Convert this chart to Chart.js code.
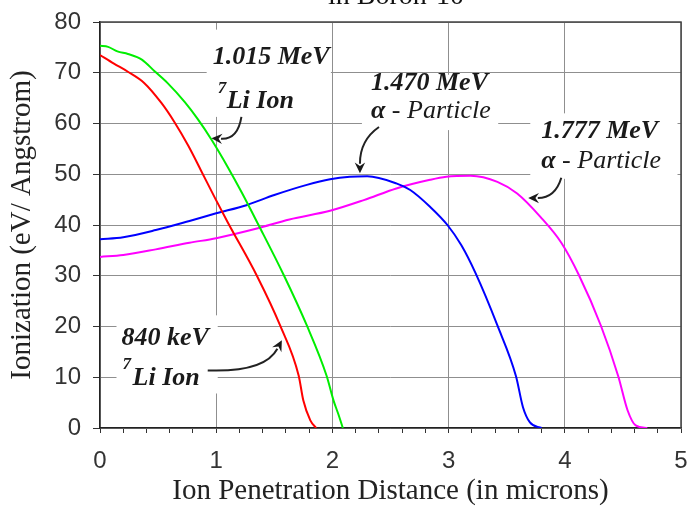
<!DOCTYPE html>
<html>
<head>
<meta charset="utf-8">
<script src="https://cdn.jsdelivr.net/npm/chart.js@4.4.1/dist/chart.umd.min.js"></script>
<style>
  html, body { margin: 0; padding: 0; background: #fff; }
  canvas { display: block; }
</style>
</head>
<body>
<canvas id="canvas" width="689" height="509"></canvas>
<script>
// 840 keV 7Li ion
const li840X = [0, 0.12, 0.24, 0.38, 0.53, 0.64, 0.76, 0.87, 0.99, 1.10, 1.35, 1.55, 1.71, 1.75, 1.81, 1.86];
const li840Y = [73.5, 71.8, 70.2, 68.0, 64.0, 60.3, 55.6, 50.7, 45.3, 40.5, 30.0, 20.2, 10.3, 5.4, 1.5, 0];
// 1.015 MeV 7Li ion
const li1015X = [0, 0.07, 0.15, 0.24, 0.36, 0.47, 0.58, 0.73, 0.84, 0.96, 1.10, 1.22, 1.36, 1.58, 1.78, 1.95, 2.01, 2.05, 2.09];
const li1015Y = [75.3, 75.1, 74.2, 73.7, 72.6, 70.3, 68.0, 64.2, 60.9, 56.8, 51.4, 46.4, 40.2, 30.2, 20.2, 10.3, 5.4, 2.8, 0];
// 1.470 MeV alpha particle
const alpha1470X = [0, 0.2, 0.48, 0.77, 1.0, 1.26, 1.50, 1.78, 1.98, 2.15, 2.3, 2.55, 2.67, 2.84, 2.99, 3.11, 3.23, 3.42, 3.58, 3.64, 3.70, 3.80];
const alpha1470Y = [37.2, 37.6, 39.0, 40.8, 42.3, 43.9, 45.9, 47.9, 49.0, 49.5, 49.6, 48.2, 46.9, 43.6, 40.0, 36.0, 30.6, 20.2, 10.2, 4.1, 1.1, 0];
// 1.777 MeV alpha particle
const alpha1777X = [0, 0.2, 0.48, 0.77, 1.0, 1.35, 1.63, 1.98, 2.27, 2.55, 2.84, 2.98, 3.19, 3.42, 3.59, 3.79, 3.97, 4.12, 4.31, 4.46, 4.54, 4.61, 4.71];
const alpha1777Y = [33.7, 34.1, 35.2, 36.5, 37.4, 39.3, 41.1, 42.8, 44.9, 47.2, 48.9, 49.5, 49.7, 48.5, 46.2, 41.6, 36.5, 30.2, 20.2, 10.2, 3.5, 0.5, 0];

const titleText = "in Boron-10";
const xTitle = "Ion Penetration Distance (in microns)";
const yTitle = "Ionization (eV/ Angstrom)";

const BI = "italic bold 26px 'Liberation Serif'";
const IT = "italic 26px 'Liberation Serif'";
const SUP = "italic bold 17px 'Liberation Serif'";

// callouts, placed in data units
const notes = [
  {
    box: [0.918, 78.5, 1.987, 61.3],
    runs: [
      { x: 0.97, y: 71.75, parts: [["1.015 MeV", BI]] },
      { x: 1.013, y: 66.0, parts: [["7", SUP]] },
      { x: 1.09, y: 63.1, parts: [["Li Ion", BI]] },
    ],
    arrow: [[1.217, 61.3], [1.185, 56.8], [0.959, 57.1]],
  },
  {
    box: [2.254, 69.6, 3.427, 58.7],
    runs: [
      { x: 2.332, y: 66.6, parts: [["1.470 MeV", BI]] },
      { x: 2.332, y: 61.1, parts: [["\u03b1", BI], [" - Particle", IT]] },
    ],
    arrow: [[2.401, 59.3], [2.237, 56.7], [2.237, 50.2]],
  },
  {
    box: [3.703, 62.0, 4.97, 49.1],
    runs: [
      { x: 3.797, y: 57.1, parts: [["1.777 MeV", BI]] },
      { x: 3.797, y: 51.2, parts: [["\u03b1", BI], [" - Particle", IT]] },
    ],
    arrow: [[3.97, 49.3], [3.918, 45.3], [3.685, 45.3]],
  },
  {
    box: [0.142, 22.2, 1.013, 6.8],
    runs: [
      { x: 0.185, y: 16.3, parts: [["840 keV", BI]] },
      { x: 0.194, y: 11.7, parts: [["7", SUP]] },
      { x: 0.28, y: 8.4, parts: [["Li Ion", BI]] },
    ],
    arrow: [[0.927, 11.35], [1.418, 10.96], [1.565, 17.3]],
  },
];

const toPoints = (xs, ys) => xs.map((x, i) => ({ x: x, y: ys[i] }));
const isWhole = (v) => Math.abs(v - Math.round(v)) < 1e-6;

const series = (data, color) => ({
  data: data,
  borderColor: color,
  backgroundColor: color,
  borderWidth: 2,
  pointRadius: 0,
  fill: false,
  cubicInterpolationMode: "monotone",
});

const calloutPlugin = {
  id: "callouts",
  beforeDatasetsDraw(chart) {
    const { ctx, scales: { x, y }, chartArea } = chart;
    ctx.save();
    ctx.fillStyle = "#fff";
    notes.forEach((n) => {
      const [x0, y0, x1, y1] = n.box;
      const l = x.getPixelForValue(x0), r = x.getPixelForValue(x1);
      const t = Math.max(y.getPixelForValue(y0), chartArea.top + 1);
      const b = y.getPixelForValue(y1);
      ctx.fillRect(l, t, r - l, b - t);
    });
    ctx.restore();
  },
  afterDatasetsDraw(chart) {
    const { ctx, scales: { x, y } } = chart;
    ctx.save();
    ctx.fillStyle = "#1a1a1a";
    ctx.textBaseline = "alphabetic";
    ctx.textAlign = "left";
    notes.forEach((n) => {
      n.runs.forEach((run) => {
        let px = x.getPixelForValue(run.x);
        const py = y.getPixelForValue(run.y);
        run.parts.forEach(([txt, font]) => {
          ctx.font = font;
          ctx.fillText(txt, px, py);
          px += ctx.measureText(txt).width;
        });
      });
      const [s, c, e] = n.arrow.map(([a, b]) => [x.getPixelForValue(a), y.getPixelForValue(b)]);
      const ang = Math.atan2(e[1] - c[1], e[0] - c[0]);
      const head = 12;
      const back = [e[0] - Math.cos(ang) * head * 0.8, e[1] - Math.sin(ang) * head * 0.8];
      ctx.strokeStyle = "#222";
      ctx.lineWidth = 2;
      ctx.beginPath();
      ctx.moveTo(s[0], s[1]);
      ctx.quadraticCurveTo(c[0], c[1], back[0], back[1]);
      ctx.stroke();
      ctx.beginPath();
      ctx.moveTo(e[0], e[1]);
      ctx.lineTo(e[0] - Math.cos(ang - 0.45) * head, e[1] - Math.sin(ang - 0.45) * head);
      ctx.lineTo(e[0] - Math.cos(ang) * head * 0.6, e[1] - Math.sin(ang) * head * 0.6);
      ctx.lineTo(e[0] - Math.cos(ang + 0.45) * head, e[1] - Math.sin(ang + 0.45) * head);
      ctx.closePath();
      ctx.fill();
    });
    ctx.restore();
  },
  afterDraw(chart) {
    const { ctx, chartArea: a } = chart;
    ctx.save();
    // frame on top and right
    ctx.strokeStyle = "#444";
    ctx.lineWidth = 1.5;
    ctx.beginPath();
    ctx.moveTo(a.left, a.top);
    ctx.lineTo(a.right, a.top);
    ctx.lineTo(a.right, a.bottom);
    ctx.stroke();
    // cut-off title at the top edge
    ctx.fillStyle = "#111";
    ctx.font = "28px 'Liberation Serif'";
    ctx.textAlign = "center";
    ctx.textBaseline = "alphabetic";
    ctx.fillText(titleText, 396, 4);
    ctx.restore();
  },
};

const canvas = document.getElementById("canvas");
const chart = new Chart(canvas, {
  type: "line",
  data: {
    datasets: [
      series(toPoints(li840X, li840Y), "#ff0000"),
      series(toPoints(li1015X, li1015Y), "#00ee00"),
      series(toPoints(alpha1470X, alpha1470Y), "#0000ff"),
      series(toPoints(alpha1777X, alpha1777Y), "#ff00ff"),
    ],
  },
  options: {
    responsive: false,
    animation: false,
    layout: { padding: { top: 22, right: 8, left: 0, bottom: 0 } },
    plugins: { legend: { display: false }, tooltip: { enabled: false } },
    scales: {
      x: {
        type: "linear",
        min: 0,
        max: 5,
        afterFit: (s) => { s.height = 81; s.paddingLeft = 0; s.paddingRight = 0; },
        ticks: {
          stepSize: 0.2,
          autoSkip: false,
          maxRotation: 0,
          padding: 14,
          color: "#333",
          font: { family: "'Liberation Sans'", size: 24 },
          callback: (v) => (isWhole(v) ? String(Math.round(v)) : ""),
        },
        grid: {
          color: (c) => (c.tick && isWhole(c.tick.value) ? "#8f8f8f" : "transparent"),
          tickColor: "#333",
          tickLength: 5,
          lineWidth: 1,
        },
        border: { color: "#222", width: 1.5 },
        title: {
          display: true,
          text: xTitle,
          color: "#222",
          font: { family: "'Liberation Serif'", size: 29 },
          padding: { top: 0, bottom: 0 },
        },
      },
      y: {
        min: 0,
        max: 80,
        afterFit: (s) => { s.width = 100; s.paddingTop = 0; s.paddingBottom = 0; },
        ticks: {
          stepSize: 10,
          padding: 12,
          color: "#333",
          font: { family: "'Liberation Sans'", size: 24 },
        },
        grid: { color: "#8f8f8f", tickColor: "#333", tickLength: 7, lineWidth: 1 },
        border: { color: "#222", width: 1.5 },
        title: {
          display: true,
          text: yTitle,
          color: "#222",
          font: { family: "'Liberation Serif'", size: 29 },
          padding: { top: 5, bottom: 0 },
        },
      },
    },
  },
  plugins: [calloutPlugin],
});
</script>
</body>
</html>
